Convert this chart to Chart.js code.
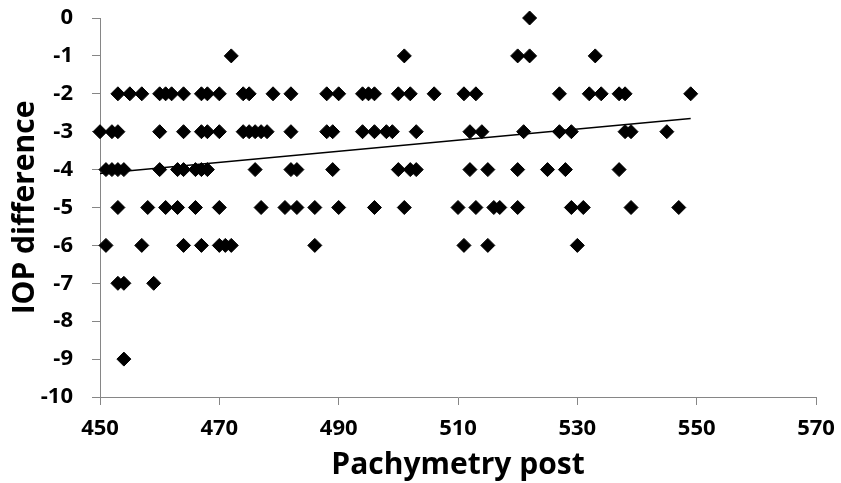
<!doctype html>
<html>
  <head>
    <title>IOP difference vs pachymetry</title>
    <script src="https://cdn.jsdelivr.net/npm/chart.js@4.4.0/dist/chart.umd.min.js"></script>
    <style>
      html, body { margin: 0; padding: 0; background: #fff; }
      #wrap { width: 841px; height: 483px; }
    </style>
  </head>
  <body>
    <div id="wrap">
      <canvas id="scatter"></canvas>
    </div>
  </body>
  <script>
    // points, one list per IOP difference level
    const pachyAt0 = [522];
    const pachyAtM1 = [472, 501, 520, 522, 533];
    const pachyAtM2 = [453, 455, 457, 460, 461, 462, 464, 467, 468, 470, 474, 475, 479, 482, 488, 490,
      494, 495, 496, 500, 502, 506, 511, 513, 527, 532, 534, 537, 538, 549];
    const pachyAtM3 = [450, 452, 453, 460, 464, 467, 468, 470, 474, 475, 476, 477, 478, 482, 488, 489,
      494, 496, 498, 499, 503, 512, 514, 521, 527, 529, 538, 539, 545];
    const pachyAtM4 = [451, 452, 453, 454, 460, 463, 464, 466, 467, 468, 476, 482, 483, 489, 500, 502,
      503, 512, 515, 520, 525, 528, 537];
    const pachyAtM5 = [453, 458, 461, 463, 466, 470, 477, 481, 483, 486, 490, 496, 501, 510, 513, 516,
      517, 520, 529, 531, 539, 547];
    const pachyAtM6 = [451, 457, 464, 467, 470, 471, 472, 486, 511, 515, 530];
    const pachyAtM7 = [453, 454, 459];
    const pachyAtM9 = [454];

    const iopLevels = [0, -1, -2, -3, -4, -5, -6, -7, -9];
    const pachyByLevel = [pachyAt0, pachyAtM1, pachyAtM2, pachyAtM3, pachyAtM4, pachyAtM5, pachyAtM6, pachyAtM7, pachyAtM9];

    // linear trend line, end points
    const trendX = [450, 549];
    const trendY = [-4.1, -2.65];

    const xTicks = [450, 470, 490, 510, 530, 550, 570];
    const yTicks = [0, -1, -2, -3, -4, -5, -6, -7, -8, -9, -10];

    const points = [];
    pachyByLevel.forEach((list, i) => {
      list.forEach(p => points.push({ x: p, y: iopLevels[i] }));
    });
    const trend = trendX.map((x, i) => ({ x: x, y: trendY[i] }));

    const axisGray = '#868686';
    const fontFam = '"Open Sans", Lato, sans-serif';

    new Chart(document.getElementById('scatter').getContext('2d'), {
      type: 'scatter',
      data: {
        datasets: [{
          type: 'line',
          data: trend,
          borderColor: '#000',
          borderWidth: 1.5,
          pointRadius: 0,
          fill: false
        }, {
          data: points,
          clip: false,
          pointStyle: 'rectRot',
          pointRadius: 7,
          pointHoverRadius: 7,
          backgroundColor: '#000',
          borderColor: '#000',
          borderWidth: 1
        }]
      },
      options: {
        responsive: true,
        maintainAspectRatio: false,
        animation: false,
        events: [],
        layout: { padding: { left: 0, right: 25, top: 18, bottom: 0 } },
        plugins: {
          legend: { display: false },
          tooltip: { enabled: false }
        },
        scales: {
          x: {
            type: 'linear',
            min: 450,
            max: 570,
            afterFit: (s) => { s.height = 86; s.paddingLeft = 0; s.paddingRight = 0; },
            afterBuildTicks: (s) => { s.ticks = xTicks.map(v => ({ value: v })); },
            grid: { drawOnChartArea: false, color: axisGray, tickLength: 8 },
            border: { color: axisGray, width: 1 },
            ticks: { color: '#000', padding: 11, font: { family: fontFam, size: 22, weight: 'bold' } },
            title: {
              display: true,
              text: 'Pachymetry post',
              color: '#000',
              padding: { top: 0, bottom: 0 },
              font: { family: fontFam, size: 30, weight: 'bold' }
            }
          },
          y: {
            min: -10,
            max: 0,
            afterFit: (s) => { s.width = 100; s.paddingTop = 0; s.paddingBottom = 0; },
            afterBuildTicks: (s) => { s.ticks = yTicks.map(v => ({ value: v })); },
            grid: { drawOnChartArea: false, color: axisGray, tickLength: 8 },
            border: { color: axisGray, width: 1 },
            ticks: { color: '#000', padding: 19, font: { family: fontFam, size: 22, weight: 'bold' } },
            title: {
              display: true,
              text: 'IOP difference',
              color: '#000',
              padding: { top: 7, bottom: 0 },
              font: { family: fontFam, size: 30, weight: 'bold' }
            }
          }
        }
      }
    });
  </script>
</html>
